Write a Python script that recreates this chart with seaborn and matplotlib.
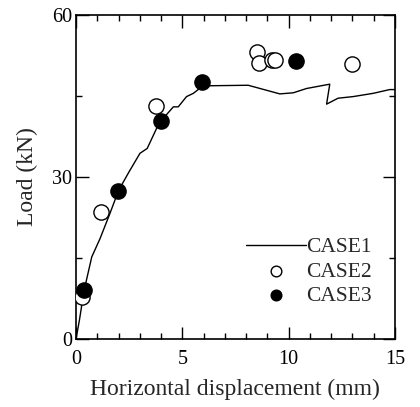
import numpy as np
import pandas as pd
import matplotlib
matplotlib.use("Agg")
import matplotlib.pyplot as plt
from matplotlib.ticker import MultipleLocator
import seaborn as sns

# CASE1 analysis curve
case1_x = [0.0, 0.16, 0.38, 0.74, 1.13, 1.6, 2.0, 2.5, 3.01, 3.35, 3.79, 4.0, 4.58, 4.81, 5.2,
           5.52, 5.91, 6.14, 8.1, 9.59, 10.22, 10.85, 11.94, 11.79, 12.33, 13.04, 13.98, 14.76, 15.0]
case1_y = [0.0, 3.5, 9.0, 15.2, 18.6, 23.3, 27.5, 31.0, 34.4, 35.3, 39.0, 40.4, 43.0, 43.0, 44.9,
           45.5, 46.7, 46.9, 47.0, 45.4, 45.6, 46.4, 47.2, 43.5, 44.6, 44.9, 45.5, 46.2, 46.2]

# CASE2 test points (open)
case2_x = [0.3, 1.18, 3.78, 8.5, 8.62, 9.21, 9.36, 12.99]
case2_y = [7.7, 23.5, 43.1, 53.2, 51.2, 51.7, 51.7, 51.0]

# CASE3 test points (filled)
case3_x = [0.38, 1.99, 4.0, 5.91, 10.33]
case3_y = [9.1, 27.5, 40.4, 47.6, 51.5]

sns.set_style("ticks")
plt.rcParams['font.family'] = ['Liberation Serif', 'DejaVu Serif']

fig = plt.figure(figsize=(4.2, 4.07), dpi=100)
ax = fig.add_axes([0.181, 0.167, 0.759, 0.796])

df1 = pd.DataFrame({'x': case1_x, 'y': case1_y})
sns.lineplot(data=df1, x='x', y='y', sort=False, color='black', linewidth=1.0,
             ax=ax, label='CASE1')
sns.scatterplot(x=case2_x, y=case2_y, ax=ax, s=120, facecolor='white',
                edgecolor='black', linewidth=1.0, label='CASE2', zorder=3)
sns.scatterplot(x=case3_x, y=case3_y, ax=ax, s=120, color='black',
                edgecolor='black', linewidth=1.0, label='CASE3', zorder=4)

ax.set_xlim(0, 15)
ax.set_ylim(0, 60)
ax.xaxis.set_major_locator(MultipleLocator(5))
ax.xaxis.set_minor_locator(MultipleLocator(1))
ax.yaxis.set_major_locator(MultipleLocator(30))
ax.yaxis.set_minor_locator(MultipleLocator(15))
ax.tick_params(which='both', direction='in', top=True, right=True, width=1.0,
               labelsize=14.5, colors='black')
ax.tick_params(axis='x', which='major', pad=8)
ax.tick_params(axis='y', which='major', pad=3)
ax.tick_params(which='major', length=9)
ax.tick_params(which='minor', length=4.5)
for sp in ax.spines.values():
    sp.set_linewidth(1.2)
    sp.set_color('black')

ax.set_xlabel('Horizontal displacement (mm)', fontsize=17, labelpad=7)
ax.set_ylabel('Load (kN)', fontsize=17, labelpad=10)

leg = ax.legend(loc='lower right', bbox_to_anchor=(0.955, 0.075), frameon=False,
                fontsize=15.5, handlelength=2.8, handletextpad=0.0,
                labelspacing=0.2, borderaxespad=0, markerscale=0.7)

fig.savefig('out.png', dpi=100)
